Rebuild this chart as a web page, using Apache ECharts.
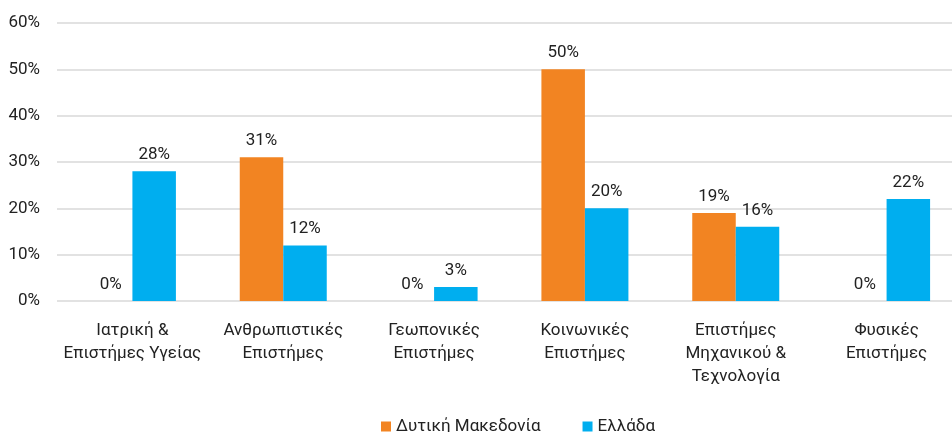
<!DOCTYPE html>
<html>
<head>
<meta charset="utf-8">
<script src="https://cdn.jsdelivr.net/npm/echarts@6/dist/echarts.min.js"></script>
<style>
  html, body { margin: 0; padding: 0; background: #fff; }
  #chart { width: 952px; height: 432px; }
</style>
</head>
<body>
<div id="chart"></div>
<script>
const categories = [
  'Ιατρική &\nΕπιστήμες Υγείας',
  'Ανθρωπιστικές\nΕπιστήμες',
  'Γεωπονικές\nΕπιστήμες',
  'Κοινωνικές\nΕπιστήμες',
  'Επιστήμες\nΜηχανικού &\nΤεχνολογία',
  'Φυσικές\nΕπιστήμες'
];
const westMacedonia = [0, 31, 0, 50, 19, 0];
const greece = [28, 12, 3, 20, 16, 22];
const yTicks = [0, 10, 20, 30, 40, 50, 60];

const FONT = 'Roboto';
const TEXT = '#222';

const chart = echarts.init(document.getElementById('chart'));
const labelStyle = {
  show: true,
  position: 'top',
  distance: 8,
  formatter: p => p.value + '%',
  fontFamily: FONT,
  fontSize: 17,
  color: TEXT
};
chart.setOption({
  animation: false,
  // plot area runs a little past the right edge of the canvas
  grid: { left: 57, width: 905, top: 23, bottom: 131, outerBoundsMode: 'none' },
  legend: {
    top: 413,
    left: 376,
    itemWidth: 10,
    itemHeight: 10,
    itemGap: 42,
    icon: 'rect',
    textStyle: { fontFamily: FONT, fontSize: 17, color: TEXT },
    data: ['Δυτική Μακεδονία', 'Ελλάδα']
  },
  xAxis: {
    type: 'category',
    data: categories,
    axisLine: { show: false },
    axisTick: { show: false },
    axisLabel: {
      interval: 0,
      margin: 18,
      fontFamily: FONT,
      fontSize: 17,
      lineHeight: 23,
      color: TEXT
    }
  },
  yAxis: {
    type: 'value',
    min: yTicks[0],
    max: yTicks[yTicks.length - 1],
    interval: 10,
    axisLine: { show: false },
    axisTick: { show: false },
    axisLabel: {
      formatter: v => v + '%',
      margin: 17,
      fontFamily: FONT,
      fontSize: 17,
      color: TEXT
    },
    splitLine: { lineStyle: { color: '#d9d9d9', width: 1.5 } }
  },
  series: [
    {
      name: 'Δυτική Μακεδονία',
      type: 'bar',
      data: westMacedonia,
      barWidth: 43.5,
      barGap: '0%',
      itemStyle: { color: '#f28422' },
      label: labelStyle
    },
    {
      name: 'Ελλάδα',
      type: 'bar',
      data: greece,
      barWidth: 43.5,
      barGap: '0%',
      itemStyle: { color: '#00aeef' },
      label: labelStyle
    }
  ]
});
</script>
</body>
</html>
